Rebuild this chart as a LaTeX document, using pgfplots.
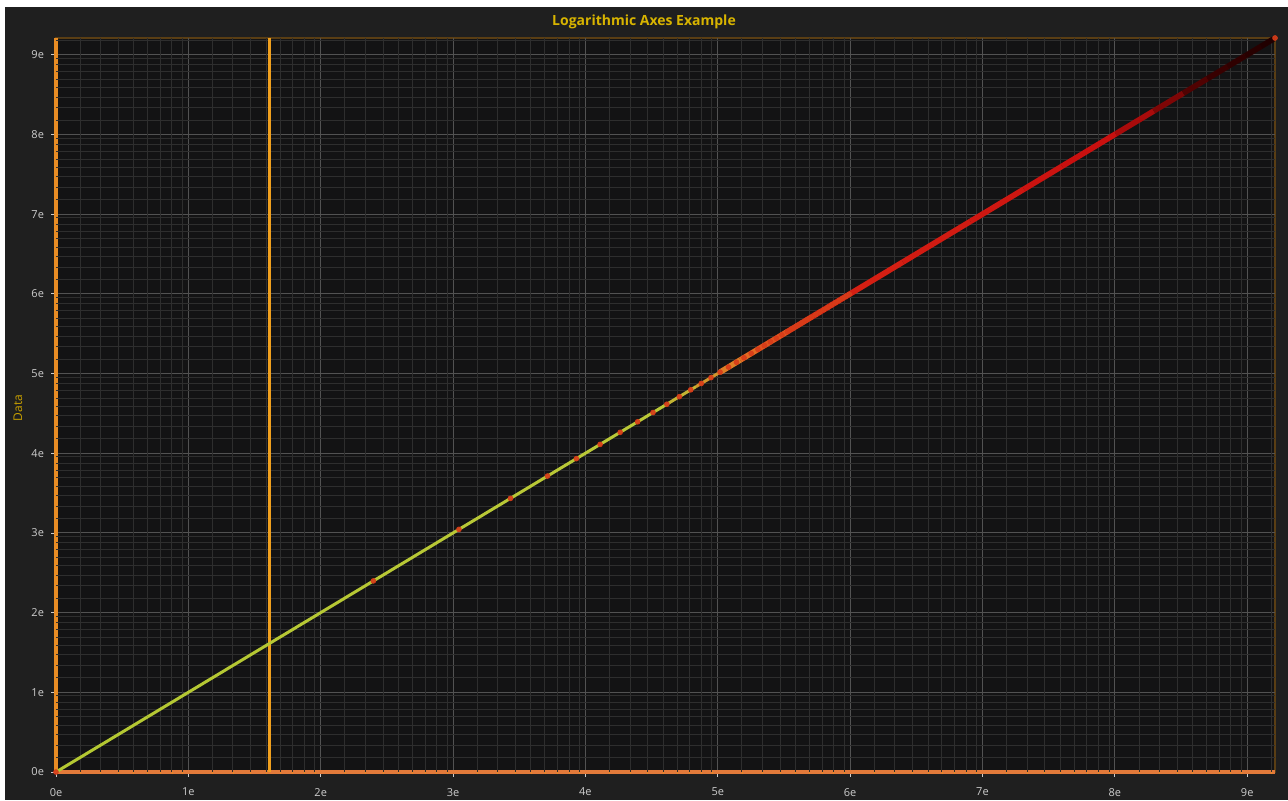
\documentclass[border=0pt]{standalone}
\usepackage{pgfplots}
\pgfplotsset{compat=1.18}
\usepackage{fontspec}
\setmainfont{Open Sans}

\definecolor{outerbg}{RGB}{31,31,31}
\definecolor{plotbg}{RGB}{19,19,20}
\definecolor{framec}{RGB}{90,62,20}
\definecolor{majgrid}{RGB}{82,82,82}
\definecolor{mingrid}{RGB}{46,46,46}
\definecolor{xaxisc}{RGB}{226,122,58}
\definecolor{yaxisc}{RGB}{232,140,36}
\definecolor{vline}{RGB}{240,160,30}
\definecolor{titlec}{RGB}{216,180,0}
\definecolor{labelc}{RGB}{200,160,0}
\definecolor{tickc}{RGB}{205,205,205}
\definecolor{markc}{RGB}{215,60,25}

% data values, third column = colour index (100 ln x)
\pgfplotstableread{
x y m
1 1 0
2 2 69
5 5 161
11 11 240
21 21 304
31 31 343
41 41 371
51 51 393
61 61 411
81 81 439
101 101 462
126 126 484
151 151 502
}\lowpart
\pgfplotstableread{
x y m
151 151 502
176 176 517
201 201 530
251 251 553
301 301 571
351 351 586
401 401 599
601 601 640
1001 1001 691
1501 1501 731
2001 2001 760
3001 3001 801
4001 4001 829
5001 5001 852
6001 6001 870
7001 7001 885
8001 8001 899
9001 9001 910
10000 10000 921
}\highpart

\def\minorlist{1.2,1.4,1.6,1.8,2.0,2.2,2.4,2.6,
        3.262,3.806,4.349,4.893,5.437,5.980,6.524,7.068,
        8.867,10.345,11.822,13.300,14.778,16.256,17.734,19.212,
        24.10,28.12,32.14,36.15,40.17,44.19,48.21,52.22,
        65.52,76.44,87.36,98.28,109.20,120.12,131.04,141.96,
        178.1,207.8,237.5,267.1,296.8,326.5,356.2,385.9,
        484.1,564.8,645.5,726.2,806.9,887.5,968.2,1048.9,
        1316.0,1535.3,1754.6,1973.9,2193.3,2412.6,2631.9,2851.2,
        3577.2,4173.3,4769.5,5365.7,5961.9,6558.1,7154.3,7750.5,9723.7}

\begin{document}
\begin{tikzpicture}
\path[use as bounding box, fill=white] (-28pt,-14pt) rectangle (616pt,386pt);
\fill[outerbg] (-25.5pt,-14pt) rectangle (616pt,382.5pt);
\begin{axis}[
    scale only axis,
    width=609.5pt, height=367pt,
    xmode=log, ymode=log,
    log basis x=2.71828, log basis y=2.71828,
    xmin=1, xmax=10000, ymin=1, ymax=10000,
    axis lines*=left,
    axis line style={-, line width=2pt},
    x axis line style={draw=xaxisc},
    y axis line style={draw=yaxisc},
    axis background/.style={fill=plotbg, draw=framec, line width=0.6pt},
    xtick={1,2.71828,7.38906,20.0855,54.5982,148.413,403.429,1096.63,2980.96,8103.08},
    ytick={1,2.71828,7.38906,20.0855,54.5982,148.413,403.429,1096.63,2980.96,8103.08},
    xticklabels={0e,1e,2e,3e,4e,5e,6e,7e,8e,9e},
    yticklabels={0e,1e,2e,3e,4e,5e,6e,7e,8e,9e},
    extra x ticks/.expanded={\minorlist},
    extra y ticks/.expanded={\minorlist},
    extra x tick labels={},
    extra y tick labels={},
    extra tick style={
        major grid style={mingrid, line width=0.4pt},
        major tick length=1pt,
        major tick style={yaxisc, line width=0.3pt},
    },
    grid=major,
    major grid style={majgrid, line width=0.5pt},
    tick align=outside,
    major tick length=2.5pt,
    major tick style={tickc, line width=0.4pt},
    ticklabel style={font=\fontsize{5.5}{6}\selectfont, text=tickc},
    xticklabel style={yshift=-2pt},
    colormap={grad}{rgb255(0)=(180,200,50); rgb255(460)=(186,200,55); rgb255(520)=(228,110,35);
        rgb255(580)=(215,35,20); rgb255(790)=(200,15,15); rgb255(830)=(150,8,8); rgb255(870)=(60,0,0); rgb255(921)=(30,0,0)},
    point meta min=0, point meta max=921,
]
\addplot[vline, line width=1.5pt] coordinates {(5,1) (5,10000)};
\addplot[mesh, point meta=explicit, line width=1.5pt] table[x=x, y=y, meta=m] {\lowpart};
\addplot[mesh, point meta=explicit, line width=2.8pt] table[x=x, y=y, meta=m] {\highpart};
\addplot[only marks, mark=*, mark size=1.2pt, color=markc, opacity=0.9] coordinates {
    (1,1) (11,11) (21,21) (31,31) (41,41) (51,51) (61,61) (71,71) (81,81) (91,91)
    (101,101) (111,111) (121,121) (131,131) (141,141) (151,151) (161,161) (171,171)
    (181,181) (191,191) (201,201) (211,211) (221,221) (231,231) (241,241) (251,251)
    (261,261) (271,271) (281,281) (291,291) (301,301) (311,311) (321,321) (331,331)
    (341,341) (351,351) (361,361) (371,371) (381,381) (391,391) (401,401) (10000,10000)};
\end{axis}
\node[font=\bfseries\fontsize{7}{8}\selectfont, text=titlec] at (294pt,375pt) {Logarithmic Axes Example};
\node[rotate=90, font=\fontsize{6}{7}\selectfont, text=labelc] at (-19pt,182pt) {Data};
\end{tikzpicture}
\end{document}
